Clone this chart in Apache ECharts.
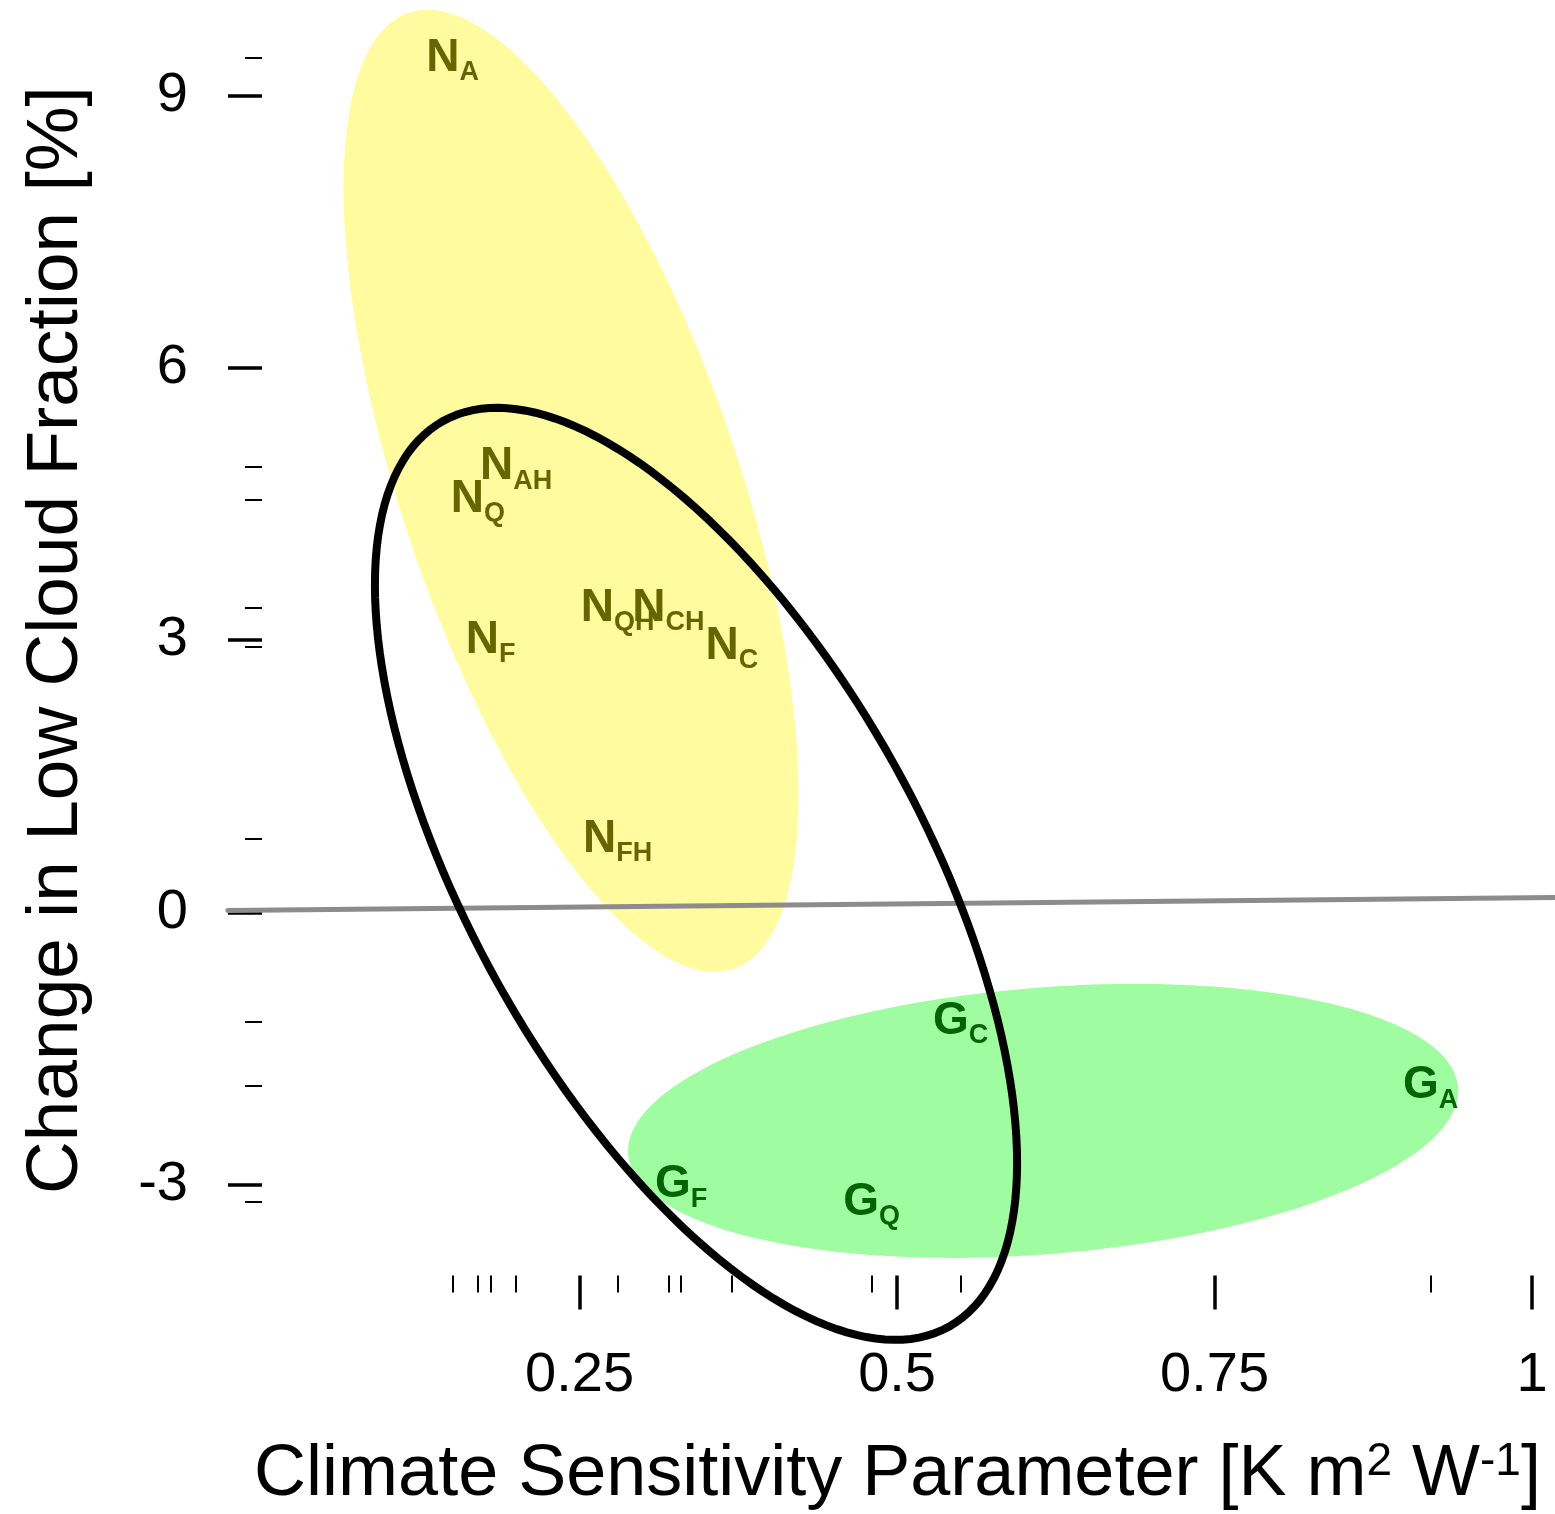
<!DOCTYPE html>
<html>
<head>
<meta charset="utf-8">
<script src="https://cdn.jsdelivr.net/npm/echarts@6/dist/echarts.min.js"></script>
<style>
html,body{margin:0;padding:0;background:#fff;overflow:hidden;}
#chart{width:1555px;height:1514px;}
</style>
</head>
<body>
<div id="chart"></div>
<script>
// ---- data ----
const nNames = ['A', 'AH', 'Q', 'QH', 'CH', 'C', 'F', 'FH'];
const nX = [0.15, 0.20, 0.17, 0.28, 0.32, 0.37, 0.18, 0.28];
const nY = [9.41, 4.91, 4.55, 3.35, 3.35, 2.93, 3.00, 0.81];

const gNames = ['C', 'A', 'F', 'Q'];
const gX = [0.55, 0.92, 0.33, 0.48];
const gY = [-1.20, -1.91, -3.00, -3.19];

// regression line end points
const fitX = [-0.027, 1.018];
const fitY = [0.02, 0.165];

// ellipses: center, half ranges, correlation
const ellCX = [0.2433, 0.615, 0.3417];
const ellCY = [4.643, -2.297, 0.424];
const ellHX = [0.1791, 0.3268, 0.2528];
const ellHY = [5.299, 1.509, 5.133];
const ellRho = [-0.63, 0.22, -0.62];

const xTicks = [0.25, 0.5, 0.75, 1];
const yTicks = [-3, 0, 3, 6, 9];

const FONT = '"Liberation Sans", Arial, Helvetica, sans-serif';
const X_MIN = 0, X_MAX = 1.018, Y_MIN = -4, Y_MAX = 10;

const rugX = nX.concat(gX);
const rugY = nY.concat(gY);

function ellipseItem(i) { return [ellCX[i], ellCY[i], ellHX[i], ellHY[i], ellRho[i]]; }

function ellipseRender(fill, stroke, lw) {
  return function (params, api) {
    const cx = api.value(0), cy = api.value(1), hx = api.value(2), hy = api.value(3), r = api.value(4);
    const d = Math.acos(r);
    const pts = [];
    for (let k = 0; k < 180; k++) {
      const t = k / 180 * Math.PI * 2;
      pts.push(api.coord([cx + hx * Math.cos(t), cy + hy * Math.cos(t + d)]));
    }
    return {
      type: 'polygon',
      shape: { points: pts },
      style: { fill: fill, stroke: stroke, lineWidth: lw }
    };
  };
}

function labelSeries(main, names, xs, ys, color) {
  return {
    type: 'scatter',
    xAxisIndex: 0, yAxisIndex: 0,
    symbolSize: 1,
    itemStyle: { color: 'rgba(0,0,0,0)', opacity: 1 },
    z: 10,
    data: xs.map((x, i) => ({ value: [x, ys[i]], name: names[i] })),
    label: {
      show: true,
      position: 'inside',
      color: color,
      opacity: 1,
      fontFamily: FONT,
      fontWeight: 'bold',
      formatter: p => '{m|' + main + '}{s|' + p.name + '}',
      rich: {
        m: { fontSize: 46, lineHeight: 46, fontWeight: 'bold', fontFamily: FONT, color: color, verticalAlign: 'top' },
        s: { fontSize: 27, lineHeight: 27, fontWeight: 'bold', fontFamily: FONT, color: color, verticalAlign: 'top', padding: [24, 0, 0, 0] }
      }
    },
    emphasis: { disabled: true }
  };
}

const chart = echarts.init(document.getElementById('chart'), null, { renderer: 'canvas' });
chart.setOption({
  backgroundColor: '#ffffff',
  animation: false,
  grid: { left: 262, right: 0, top: 4.5, bottom: 238.5, containLabel: false, outerBoundsMode: 'none' },
  xAxis: [
    {
      type: 'value', min: X_MIN, max: X_MAX, position: 'bottom',
      splitLine: { show: false },
      axisLine: { show: false, onZero: false },
      axisTick: { show: true, customValues: xTicks, length: 34, lineStyle: { color: '#000', width: 3.5 } },
      axisLabel: { show: true, customValues: xTicks, margin: 72, fontSize: 56, fontFamily: FONT, color: '#000',
        formatter: v => String(v) },
      name: 'Climate Sensitivity Parameter [K m{sup|2} W{sup|-1}]',
      nameLocation: 'middle',
      nameGap: 164,
      nameTextStyle: {
        fontSize: 72, fontFamily: FONT, color: '#000', lineHeight: 72, padding: [0, 22, 0, 0],
        rich: { sup: { fontSize: 46, fontFamily: FONT, color: '#000', lineHeight: 42, verticalAlign: 'top' } }
      }
    },
    {
      type: 'value', min: X_MIN, max: X_MAX, position: 'bottom',
      splitLine: { show: false },
      axisLine: { show: false, onZero: false },
      axisTick: { show: true, customValues: rugX, length: 17, lineStyle: { color: '#000', width: 2 } },
      axisLabel: { show: false }
    }
  ],
  yAxis: [
    {
      type: 'value', min: Y_MIN, max: Y_MAX, position: 'left',
      splitLine: { show: false },
      axisLine: { show: false, onZero: false },
      axisTick: { show: true, customValues: yTicks, length: 34, lineStyle: { color: '#000', width: 3.5 } },
      axisLabel: { show: true, customValues: yTicks, margin: 74, fontSize: 56, fontFamily: FONT, color: '#000' },
      name: 'Change in Low Cloud Fraction [%]',
      nameLocation: 'middle',
      nameRotate: 90,
      nameGap: 169,
      nameTextStyle: { fontSize: 73, fontFamily: FONT, color: '#000', lineHeight: 73 }
    },
    {
      type: 'value', min: Y_MIN, max: Y_MAX, position: 'left',
      splitLine: { show: false },
      axisLine: { show: false, onZero: false },
      axisTick: { show: true, customValues: rugY, length: 17, lineStyle: { color: '#000', width: 2 } },
      axisLabel: { show: false }
    }
  ],
  series: [
    {
      type: 'custom', xAxisIndex: 0, yAxisIndex: 0, z: 1, clip: false,
      renderItem: ellipseRender('#FFFB9E', null, 0),
      data: [ellipseItem(0)], silent: true
    },
    {
      type: 'custom', xAxisIndex: 0, yAxisIndex: 0, z: 1, clip: false,
      renderItem: ellipseRender('#A0FCA0', null, 0),
      data: [ellipseItem(1)], silent: true
    },
    {
      type: 'custom', xAxisIndex: 0, yAxisIndex: 0, z: 3, clip: false,
      renderItem: function (params, api) {
        const p0 = api.coord([api.value(0), api.value(1)]);
        const p1 = api.coord([api.value(2), api.value(3)]);
        return {
          type: 'line',
          shape: { x1: p0[0], y1: p0[1], x2: p1[0], y2: p1[1] },
          style: { stroke: '#8C8C8C', lineWidth: 5, lineCap: 'round' }
        };
      },
      data: [[fitX[0], fitY[0], fitX[1], fitY[1]]], silent: true
    },
    {
      type: 'custom', xAxisIndex: 0, yAxisIndex: 0, z: 5, clip: false,
      renderItem: ellipseRender(null, '#000000', 8),
      data: [ellipseItem(2)], silent: true
    },
    labelSeries('N', nNames, nX, nY, '#666600'),
    labelSeries('G', gNames, gX, gY, '#006400')
  ]
});
</script>
</body>
</html>
